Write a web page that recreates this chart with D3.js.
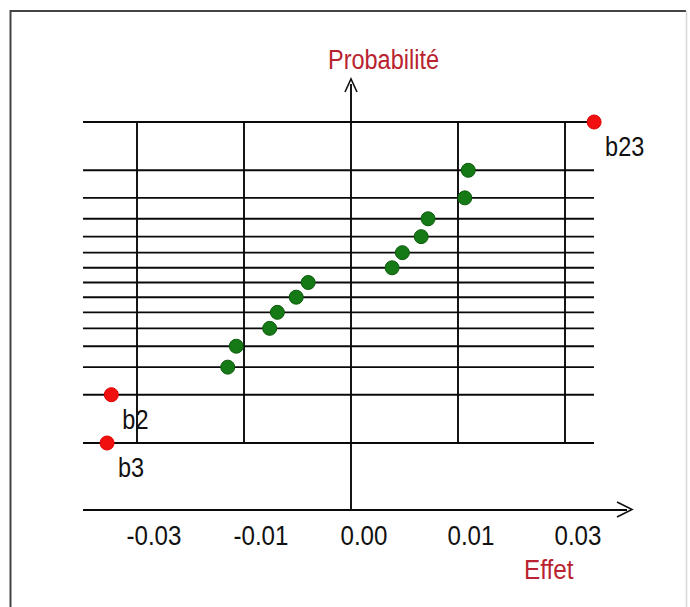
<!DOCTYPE html>
<html lang="fr">
<head>
  <meta charset="UTF-8">
  <title>Droite de Henry des effets</title>
  <script src="https://d3js.org/d3.v7.min.js"></script>
  <style>
    body { margin: 0; background: #fff; }
    svg { display: block; font-family: "Liberation Sans", Arial, sans-serif; }
    .grid line { stroke: #0a0a0a; stroke-width: 1.9px; }
    .axis-title { fill: #b8232f; font-size: 27px; }
    .tick-label text { font-size: 28px; fill: #111; }
    .pt-label { font-size: 27px; fill: #111; }
  </style>
</head>
<body>
  <svg id="chart" width="690" height="607"></svg>

  <script>
    // normal scores of the 15 ranked effects (one gridline per effect)
    const probLevels = [-1.834, -1.282, -0.967, -0.728, -0.524, -0.341, -0.168, 0,
                        0.168, 0.341, 0.524, 0.728, 0.967, 1.282, 1.834];
    // effects, sorted ascending
    const effectValues = [-0.0285, -0.0280, -0.0144, -0.0134, -0.0095, -0.0086, -0.0064, -0.0050,
                          0.0048, 0.0060, 0.0082, 0.0090, 0.0133, 0.0137, 0.0284];
    const effectLabels = ["b3", "b2", "", "", "", "", "", "", "", "", "", "", "", "", "b23"];
    const significant = [true, true, false, false, false, false, false, false,
                         false, false, false, false, false, false, true];
    const xTickValues = [-0.025, -0.0125, 0, 0.0125, 0.025];
    const xTickLabels = ["-0.03", "-0.01", "0.00", "0.01", "0.03"];

    const svg = d3.select("#chart");

    const x = d3.scaleLinear().domain([-0.025, 0.025]).range([137, 565]);
    const y = d3.scaleLinear().domain([-1.834, 1.834]).range([443, 122]);

    const gridLeft = 83, gridRight = 594;
    const axisY = 510;

    // the original font is a narrow one, squeeze the glyphs a bit
    function narrow(sel, k) {
      sel.each(function () {
        const w = this.getComputedTextLength();
        d3.select(this).attr("textLength", w * k).attr("lengthAdjust", "spacingAndGlyphs");
      });
    }

    // frame
    svg.append("path")
      .attr("d", "M10.5,607 V11 H686")
      .attr("fill", "none").attr("stroke", "#444").attr("stroke-width", 2);
    svg.append("line")
      .attr("x1", 686.5).attr("x2", 686.5).attr("y1", 11).attr("y2", 607)
      .attr("stroke", "#d8d8d8").attr("stroke-width", 1.5);

    const grid = svg.append("g").attr("class", "grid");

    // horizontal lines, one per probability level
    grid.selectAll(".h")
      .data(probLevels)
      .enter().append("line")
      .attr("x1", gridLeft).attr("x2", gridRight)
      .attr("y1", d => y(d)).attr("y2", d => y(d));

    // vertical lines at the ticks (0 is the y axis, drawn below)
    grid.selectAll(".v")
      .data(xTickValues.filter(d => d !== 0))
      .enter().append("line")
      .attr("x1", d => x(d)).attr("x2", d => x(d))
      .attr("y1", y(probLevels[probLevels.length - 1]))
      .attr("y2", y(probLevels[0]));

    // y axis with arrow
    grid.append("line")
      .attr("x1", x(0)).attr("x2", x(0)).attr("y1", 84).attr("y2", axisY);
    svg.append("path")
      .attr("d", `M${x(0) - 6},92 L${x(0)},79 L${x(0) + 6},92`)
      .attr("fill", "none").attr("stroke", "#111").attr("stroke-width", 1.6);

    // x axis with arrow
    grid.append("line")
      .attr("x1", gridLeft).attr("x2", 627).attr("y1", axisY).attr("y2", axisY);
    svg.append("path")
      .attr("d", `M617,502 L632,509.5 L617,517`)
      .attr("fill", "none").attr("stroke", "#111").attr("stroke-width", 1.6);

    // tick labels
    const xAxis = svg.append("g")
      .attr("class", "tick-label")
      .attr("transform", `translate(0, ${axisY})`)
      .call(d3.axisBottom(x)
        .tickValues(xTickValues)
        .tickSize(0)
        .tickFormat((d, i) => xTickLabels[i]));
    xAxis.select(".domain").remove();
    xAxis.attr("font-family", null).attr("font-size", null);
    xAxis.selectAll("text")
      .attr("text-anchor", "start")
      .attr("x", -11)
      .attr("y", 35)
      .attr("dy", null)
      .call(narrow, 0.86);

    // axis titles
    svg.append("text").attr("class", "axis-title")
      .attr("x", 328).attr("y", 69).text("Probabilité").call(narrow, 0.87);
    svg.append("text").attr("class", "axis-title")
      .attr("x", 524).attr("y", 579).text("Effet").call(narrow, 0.9);

    // points
    const pts = effectValues.map((v, i) => ({ v, p: probLevels[i], label: effectLabels[i], sig: significant[i] }));

    svg.selectAll(".pt")
      .data(pts)
      .enter().append("circle")
      .attr("cx", d => x(d.v))
      .attr("cy", d => y(d.p))
      .attr("r", 7)
      .attr("fill", d => d.sig ? "#f01010" : "#157a15")
      .attr("stroke", d => d.sig ? "#e00000" : "#0b5a0b")
      .attr("stroke-width", 1);

    svg.selectAll(".pt-label")
      .data(pts.filter(d => d.label))
      .enter().append("text")
      .attr("class", "pt-label")
      .attr("x", d => x(d.v) + 11)
      .attr("y", d => y(d.p) + 34)
      .text(d => d.label)
      .call(narrow, 0.87);
  </script>
</body>
</html>
